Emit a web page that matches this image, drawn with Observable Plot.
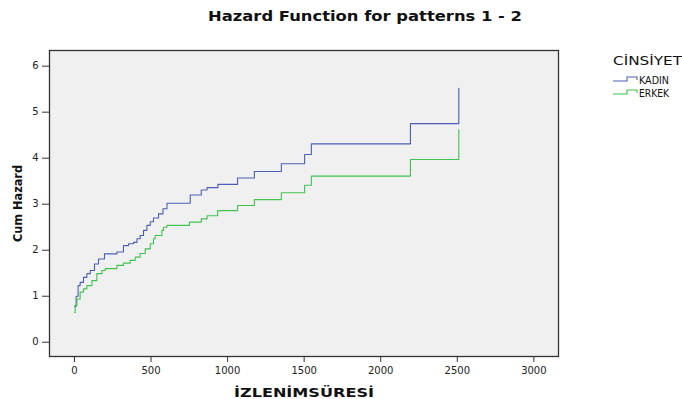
<!DOCTYPE html>
<html><head><meta charset="utf-8">
<script src="https://cdn.jsdelivr.net/npm/d3@7"></script>
<script src="https://cdn.jsdelivr.net/npm/@observablehq/plot@0.6"></script>
<style>
body{margin:0;background:#fff;}
#wrap{position:relative;width:682px;height:399px;overflow:hidden;font-family:"DejaVu Sans",sans-serif;color:#111;}
.ov{position:absolute;white-space:nowrap;transform-origin:0 0;line-height:1;}
</style></head><body>
<div id="wrap"></div>
<script>
const titleText = "Hazard Function for patterns 1 - 2";
const legendTitle = "CİNSİYET";
const groups = ["KADIN", "ERKEK"];
const colors = ["#4a60b6", "#40c250"];
const xTicks = [0, 500, 1000, 1500, 2000, 2500, 3000];
const yTicks = [0, 1, 2, 3, 4, 5, 6];
const xLabel = "İZLENİMSÜRESİ";
const yLabel = "Cum Hazard";

const kadinTime   = [0, 11, 24, 37, 59, 81, 103, 131, 157, 196, 277, 320, 353, 386, 408, 429, 451, 473, 495, 516, 549, 578, 604, 756, 828, 866, 937, 1065, 1175, 1351, 1503, 1547, 2194, 2510];
const kadinHazard = [0.78, 1.00, 1.23, 1.30, 1.41, 1.49, 1.56, 1.70, 1.81, 1.92, 1.96, 2.10, 2.14, 2.17, 2.25, 2.32, 2.43, 2.54, 2.62, 2.70, 2.79, 2.90, 3.02, 3.20, 3.31, 3.36, 3.43, 3.57, 3.71, 3.88, 4.08, 4.31, 4.75, 5.52];
const erkekTime   = [0, 5, 16, 37, 59, 81, 114, 146, 179, 201, 277, 320, 364, 397, 429, 462, 495, 516, 527, 571, 582, 604, 751, 828, 866, 935, 1065, 1175, 1351, 1503, 1547, 2194, 2510];
const erkekHazard = [0.65, 0.80, 0.94, 1.09, 1.16, 1.23, 1.34, 1.49, 1.56, 1.60, 1.67, 1.72, 1.78, 1.85, 1.93, 2.03, 2.14, 2.25, 2.32, 2.43, 2.50, 2.54, 2.61, 2.68, 2.75, 2.86, 2.97, 3.10, 3.25, 3.41, 3.61, 3.97, 4.62];

const data = [
  ...kadinTime.map((t, i) => ({t, h: kadinHazard[i], g: groups[0]})),
  ...erkekTime.map((t, i) => ({t, h: erkekHazard[i], g: groups[1]}))
];

const chart = Plot.plot({
  width: 682, height: 399,
  marginLeft: 49, marginRight: 124, marginTop: 50, marginBottom: 43,
  style: {background: "transparent", fontFamily: "DejaVu Sans, sans-serif", fontSize: "10px", color: "#222", overflow: "visible"},
  x: {domain: [-163, 3161]},
  y: {domain: [-0.31, 6.34]},
  color: {domain: groups, range: colors},
  marks: [
    Plot.frame({fill: "#f0f0f0", stroke: null}),
    Plot.line(data, {x: "t", y: "h", z: "g", stroke: "g", curve: "step-after", strokeWidth: 1.1}),
    Plot.frame({stroke: "#333", strokeWidth: 1.3}),
    Plot.axisX(xTicks, {tickSize: 6, tickPadding: 4, stroke: "#333", tickFormat: d => String(d), label: xLabel, labelAnchor: "center", labelOffset: 40}),
    Plot.axisY(yTicks, {tickSize: 7, tickPadding: 4, stroke: "#333", tickFormat: d => String(d), label: yLabel, labelAnchor: "center", labelOffset: 36})
  ]
});
const wrap = document.getElementById("wrap");
wrap.appendChild(chart);

// style axis labels (no arrows)
const svg = d3.select(chart);
function fixLabel(sel, text, w) {
  sel.text(text)
    .attr("font-weight", "bold").attr("font-size", "12.5px").attr("fill", "#111")
    .attr("textLength", w).attr("lengthAdjust", "spacingAndGlyphs");
}
fixLabel(svg.selectAll('g[aria-label="x-axis label"] text'), xLabel, 140);
fixLabel(svg.selectAll('g[aria-label="y-axis label"] text'), yLabel, 77);

function overlay(text, left, top, size, weight, targetW, center) {
  const d = document.createElement("div");
  d.className = "ov";
  d.textContent = text;
  d.style.fontSize = size + "px";
  d.style.fontWeight = weight;
  d.style.top = top + "px";
  wrap.appendChild(d);
  const w = d.getBoundingClientRect().width;
  const k = targetW ? targetW / w : 1;
  d.style.left = (center ? left - (w * k) / 2 : left) + "px";
  d.style.transform = `scaleX(${k})`;
  return d;
}
overlay(titleText, 365, 9, 14, "bold", 314, true);
overlay(legendTitle, 613, 56, 11.5, "normal", 69, false);

// legend entries
groups.forEach((g, i) => {
  const y = 80 + i * 13;
  const s = document.createElementNS("http://www.w3.org/2000/svg", "svg");
  s.setAttribute("width", 30); s.setAttribute("height", 10);
  s.style.position = "absolute"; s.style.left = "610px"; s.style.top = (y - 5) + "px";
  const p = document.createElementNS("http://www.w3.org/2000/svg", "path");
  p.setAttribute("d", "M3,6H17V2H27V5");
  p.setAttribute("fill", "none"); p.setAttribute("stroke", colors[i]); p.setAttribute("stroke-width", "1.1");
  s.appendChild(p); wrap.appendChild(s);
  overlay(g, 639, y - 4.5, 10, "normal", 30, false);
});
</script>
</body></html>
